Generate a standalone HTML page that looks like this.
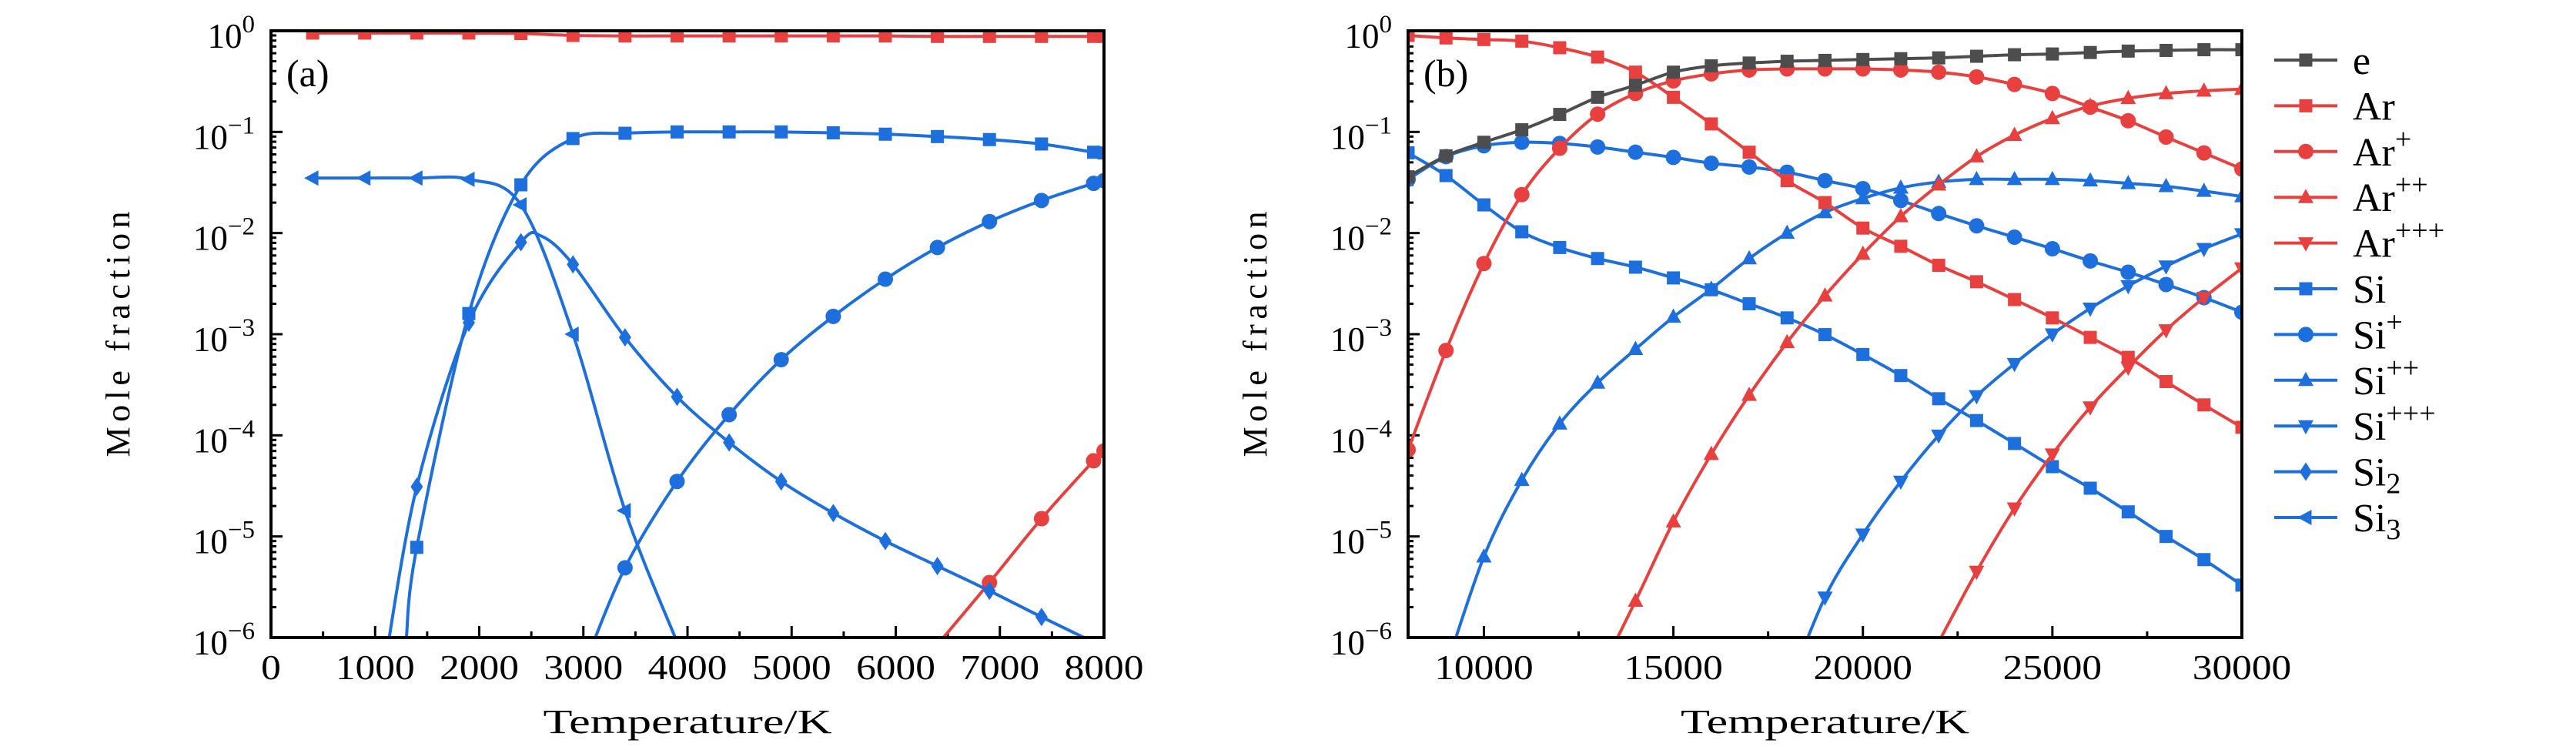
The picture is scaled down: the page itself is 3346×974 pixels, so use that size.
<!DOCTYPE html>
<html><head><meta charset="utf-8">
<style>
html,body{margin:0;padding:0;background:#fff;}
svg{display:block;font-family:"Liberation Serif",serif;}
</style></head>
<body>
<svg id="chart" width="3346" height="974" viewBox="0 0 3346 974" xmlns="http://www.w3.org/2000/svg">
<defs>
<clipPath id="clipA"><rect x="352" y="40" width="1082" height="788"/></clipPath>
<clipPath id="clipB"><rect x="1829" y="40" width="1083" height="788"/></clipPath>
</defs>
</svg>
<script>
// ---------- Panel (a) data ----------
const aArT=[400,900,1400,1900,2400,2900,3400,3900,4400,4900,5400,5900,6400,6900,7400,7900,8000];
const aArV=[0.95,0.95,0.95,0.95,0.94,0.90,0.89,0.89,0.89,0.89,0.89,0.89,0.88,0.88,0.88,0.88,0.88];
const aArpT=[6400,6900,7400,7900,8000];
const aArpV=[8.5e-7,3.5e-6,1.5e-5,5.6e-5,7e-5];
const aSiT=[1300,1400,1900,2400,2900,3400,3900,4400,4900,5400,5900,6400,6900,7400,7900,8000];
const aSiV=[1e-6,7.8e-6,1.6e-3,0.030,0.086,0.097,0.10,0.10,0.10,0.098,0.095,0.09,0.084,0.076,0.063,0.062];
const aSipT=[3000,3400,3900,4400,4900,5400,5900,6400,6900,7400,7900,8000];
const aSipV=[5e-7,4.9e-6,3.5e-5,1.6e-4,5.6e-4,1.5e-3,3.5e-3,7.2e-3,0.013,0.021,0.031,0.033];
const aSi2T=[1100,1400,1900,2400,2600,2900,3400,3900,4400,4900,5400,5900,6400,6900,7400,7900,8000];
const aSi2V=[6e-7,3.1e-5,1.3e-3,8.1e-3,9.3e-3,4.9e-3,9.3e-4,2.4e-4,8.5e-5,3.5e-5,1.7e-5,9e-6,5.1e-6,2.9e-6,1.6e-6,9e-7,8e-7];
const aSi3T=[400,900,1400,1900,2400,2900,3400,3900];
const aSi3V=[0.035,0.035,0.035,0.034,0.019,1e-3,1.8e-5,9e-7];
// ---------- Panel (b) data ----------
const bT=[8000,9000,10000,11000,12000,13000,14000,15000,16000,17000,18000,19000,20000,21000,22000,23000,24000,25000,26000,27000,28000,29000,30000];
const bE=[0.036,0.058,0.079,0.105,0.149,0.22,0.29,0.39,0.45,0.48,0.50,0.51,0.52,0.53,0.54,0.56,0.58,0.59,0.61,0.63,0.64,0.65,0.65];
const bAr=[0.90,0.85,0.82,0.79,0.68,0.55,0.39,0.22,0.12,0.063,0.033,0.020,0.0112,7.4e-3,4.8e-3,3.3e-3,2.2e-3,1.45e-3,9.3e-4,5.9e-4,3.4e-4,2.0e-4,1.2e-4];
const bArp=[7.2e-5,6.9e-4,5e-3,0.024,0.069,0.15,0.24,0.32,0.375,0.41,0.42,0.42,0.42,0.41,0.39,0.35,0.295,0.24,0.176,0.129,0.089,0.062,0.043];
const bArppT=[13000,14000,15000,16000,17000,18000,19000,20000,21000,22000,23000,24000,25000,26000,27000,28000,29000,30000];
const bArppV=[4e-7,2.3e-6,1.4e-5,6.5e-5,2.5e-4,8.3e-4,2.4e-3,6.2e-3,0.0146,0.030,0.057,0.093,0.136,0.18,0.215,0.24,0.255,0.265];
const bArpppT=[22000,23000,24000,25000,26000,27000,28000,29000,30000];
const bArpppV=[9e-7,4.5e-6,1.9e-5,6.5e-5,1.9e-4,4.7e-4,1.1e-3,2.3e-3,4.5e-3];
const bSi=[0.062,0.037,0.019,0.0103,7.2e-3,5.6e-3,4.6e-3,3.6e-3,2.75e-3,2.0e-3,1.45e-3,9.9e-4,6.3e-4,3.9e-4,2.3e-4,1.4e-4,8.3e-5,4.9e-5,3.0e-5,1.75e-5,1.0e-5,5.9e-6,3.3e-6];
const bSip=[0.034,0.057,0.073,0.079,0.077,0.071,0.063,0.056,0.049,0.045,0.040,0.033,0.0275,0.021,0.0156,0.0118,9.1e-3,7.0e-3,5.3e-3,4.1e-3,3.1e-3,2.3e-3,1.65e-3];
const bSippT=[9000,10000,11000,12000,13000,14000,15000,16000,17000,18000,19000,20000,21000,22000,23000,24000,25000,26000,27000,28000,29000,30000];
const bSippV=[5e-7,6.3e-6,3.6e-5,1.3e-4,3.3e-4,7.1e-4,1.48e-3,2.8e-3,5.6e-3,0.010,0.016,0.022,0.028,0.032,0.034,0.034,0.034,0.033,0.031,0.029,0.026,0.023];
const bSipppT=[18000,19000,20000,21000,22000,23000,24000,25000,26000,27000,28000,29000,30000];
const bSipppV=[3e-7,2.5e-6,1.05e-5,3.5e-5,1.0e-4,2.45e-4,5.1e-4,1.0e-3,1.8e-3,3.0e-3,4.7e-3,7.0e-3,9.8e-3];

const aXTicks=[0,1000,2000,3000,4000,5000,6000,7000,8000];
const bXTicks=[10000,15000,20000,25000,30000];
const yExps=[0,-1,-2,-3,-4,-5,-6];

const RED="#e8403f", BLUE="#1c6fdc", GRAY="#4d4d4d";
const NS="http://www.w3.org/2000/svg";
const svg=document.getElementById('chart');
function mk(tag,attrs,parent){const e=document.createElementNS(NS,tag);for(const k in attrs)e.setAttribute(k,attrs[k]);(parent||svg).appendChild(e);return e;}

function makePanel(p){
  const g=mk('g',{});
  
  
  const xs=v=>p.L+(v-p.x0)/(p.x1-p.x0)*(p.R-p.L);
  const ys=v=>p.T+(-Math.log10(v))/6*(p.B-p.T);
  p.xs=xs;p.ys=ys;
  for(let d=0;d<6;d++){for(let m=2;m<=9;m++){const y=ys(m*Math.pow(10,-d-1));
    const t=mk('line',{x1:p.L,x2:p.L+7,y1:y,y2:y,stroke:'#000','stroke-width':3},g);
    }}
  yExps.forEach(e=>{const y=ys(Math.pow(10,e));
    const t=mk('line',{x1:p.L,x2:p.L+15,y1:y,y2:y,stroke:'#000','stroke-width':3},g);
    
    const tx=mk('text',{x:p.L-21,y:y+22,'text-anchor':'end','font-size':45},g);
    
    tx.textContent='10';
    const s=mk('tspan',{dy:-20,'font-size':33},tx);s.textContent=(e<0?'\u2212':'')+Math.abs(e);
  });
  p.xticks.forEach((v,i)=>{const x=xs(v);
    const t=mk('line',{x1:x,x2:x,y1:p.B,y2:p.B-15,stroke:'#000','stroke-width':3},g);
    
    const s=String(v);
    const tx=mk('text',{x:x,y:p.B+54,'text-anchor':'middle','font-size':45,textLength:s.length*25.7,lengthAdjust:'spacingAndGlyphs'},g);
    
    tx.textContent=s;
    if(i<p.xticks.length-1){const xm=xs(v+p.minorStep);
      const m=mk('line',{x1:xm,x2:xm,y1:p.B,y2:p.B-8,stroke:'#000','stroke-width':3},g);
      }
  });
  if(p.x0<p.xticks[0]){const xm=xs(p.xticks[0]-p.minorStep);if(xm>p.L){const m=mk('line',{x1:xm,x2:xm,y1:p.B,y2:p.B-8,stroke:'#000','stroke-width':3},g);}}
  const series=mk('g',{'clip-path':'url(#'+p.clip+')'},g);
  
  p.series=series;
  const fr=mk('rect',{x:p.L,y:p.T,width:p.R-p.L,height:p.B-p.T,fill:'none',stroke:'#000','stroke-width':4},g);
  
  const lab=mk('text',{x:p.labX,y:p.T+72,'font-size':50},g);
  
  lab.textContent=p.label;
  const yl=mk('text',{x:0,y:0,'text-anchor':'middle','font-size':44,textLength:319,lengthAdjust:'spacing',transform:'translate('+(p.L-184)+','+((p.T+p.B)/2)+') rotate(-90)'},g);
  
  yl.textContent='Mole fraction';
  const xl=mk('text',{x:(p.L+p.R)/2,y:952,'text-anchor':'middle','font-size':44,textLength:375,lengthAdjust:'spacingAndGlyphs'},g);
  
  xl.textContent='Temperature/K';
  return p;
}

function marker(parent,shape,x,y,c,sz){
  const r=sz/2;let e;
  if(shape==='square')e=mk('rect',{x:x-r*0.85,y:y-r*0.85,width:sz*0.85,height:sz*0.85,fill:c},parent);
  else if(shape==='circle')e=mk('circle',{cx:x,cy:y,r:r,fill:c},parent);
  else if(shape==='up')e=mk('polygon',{points:`${x},${y-r*1.1} ${x+r},${y+r*0.75} ${x-r},${y+r*0.75}`,fill:c},parent);
  else if(shape==='down')e=mk('polygon',{points:`${x},${y+r*1.1} ${x+r},${y-r*0.75} ${x-r},${y-r*0.75}`,fill:c},parent);
  else if(shape==='diamond')e=mk('polygon',{points:`${x},${y-r*1.2} ${x+r*0.8},${y} ${x},${y+r*1.2} ${x-r*0.8},${y}`,fill:c},parent);
  else if(shape==='left')e=mk('polygon',{points:`${x-r*1.1},${y} ${x+r*0.75},${y-r} ${x+r*0.75},${y+r}`,fill:c},parent);
  return e;
}

function smoothPath(pts){
  let d='M'+pts[0][0]+','+pts[0][1];
  for(let i=0;i<pts.length-1;i++){
    const p0=pts[Math.max(0,i-1)],p1=pts[i],p2=pts[i+1],p3=pts[Math.min(pts.length-1,i+2)];
    const c1=[p1[0]+(p2[0]-p0[0])/6,p1[1]+(p2[1]-p0[1])/6];
    const c2=[p2[0]-(p3[0]-p1[0])/6,p2[1]-(p3[1]-p1[1])/6];
    d+=` C${c1[0]},${c1[1]} ${c2[0]},${c2[1]} ${p2[0]},${p2[1]}`;
  }
  return d;
}

function drawSeries(p,name,T,V,color,shape,isMarker){
  const g=mk('g',{},p.series);
  
  
  const pts=T.map((t,i)=>[p.xs(t),p.ys(V[i])]);
  const path=mk('path',{d:smoothPath(pts),fill:'none',stroke:color,'stroke-width':4},g);
  
  
  T.forEach((t,i)=>{
    if(!isMarker(t))return;
    if(V[i]<1e-6*0.95)return;
    const m=marker(g,shape,pts[i][0],pts[i][1],color,20);
    
    
  });
}

const A=makePanel({name:'panel-a',L:352,R:1434,T:40,B:828,x0:0,x1:8000,xticks:aXTicks,minorStep:500,clip:'clipA',label:'(a)',labX:372});
const B=makePanel({name:'panel-b',L:1829,R:2912,T:40,B:828,x0:8000,x1:30000,xticks:bXTicks,minorStep:2500,clip:'clipB',label:'(b)',labX:1849});

const aMk=t=>(t%500===400)||t===8000;
drawSeries(A,'series-ar',aArT,aArV,RED,'square',aMk);
drawSeries(A,'series-ar-plus',aArpT,aArpV,RED,'circle',aMk);
drawSeries(A,'series-si',aSiT,aSiV,BLUE,'square',aMk);
drawSeries(A,'series-si-plus',aSipT,aSipV,BLUE,'circle',aMk);
drawSeries(A,'series-si2',aSi2T,aSi2V,BLUE,'diamond',aMk);
drawSeries(A,'series-si3',aSi3T,aSi3V,BLUE,'left',aMk);

const bMk=t=>t%1000===0;
drawSeries(B,'series-si',bT,bSi,BLUE,'square',bMk);
drawSeries(B,'series-si-plus',bT,bSip,BLUE,'circle',bMk);
drawSeries(B,'series-si-2plus',bSippT,bSippV,BLUE,'up',bMk);
drawSeries(B,'series-si-3plus',bSipppT,bSipppV,BLUE,'down',bMk);
drawSeries(B,'series-ar',bT,bAr,RED,'square',bMk);
drawSeries(B,'series-ar-plus',bT,bArp,RED,'circle',bMk);
drawSeries(B,'series-ar-2plus',bArppT,bArppV,RED,'up',bMk);
drawSeries(B,'series-ar-3plus',bArpppT,bArpppV,RED,'down',bMk);
drawSeries(B,'series-e',bT,bE,GRAY,'square',bMk);

// ---------- Legend ----------
const legNames=['e','Ar','Ar','Ar','Ar','Si','Si','Si','Si','Si','Si'];
const legSup=['','','+','++','+++','','+','++','+++','',''];
const legSub=['','','','','','','','','','2','3'];
const legColors=[GRAY,RED,RED,RED,RED,BLUE,BLUE,BLUE,BLUE,BLUE,BLUE];
const legShapes=['square','square','circle','up','down','square','circle','up','down','diamond','left'];
const leg=mk('g',{});


legNames.forEach((n,i)=>{
  const y=78+i*59.4;
  const eg=mk('g',{},leg);
  
  
  mk('line',{x1:2954,x2:3036,y1:y,y2:y,stroke:legColors[i],'stroke-width':4},eg);
  marker(eg,legShapes[i],2995,y,legColors[i],20);
  const t=mk('text',{x:3056,y:y+18,'font-size':52},eg);
  t.textContent=n;
  if(legSup[i]){const s=mk('tspan',{dy:-22,'font-size':38},t);s.textContent=legSup[i];}
  if(legSub[i]){const s=mk('tspan',{dy:10,'font-size':38},t);s.textContent=legSub[i];}
});
</script>
</body></html>
